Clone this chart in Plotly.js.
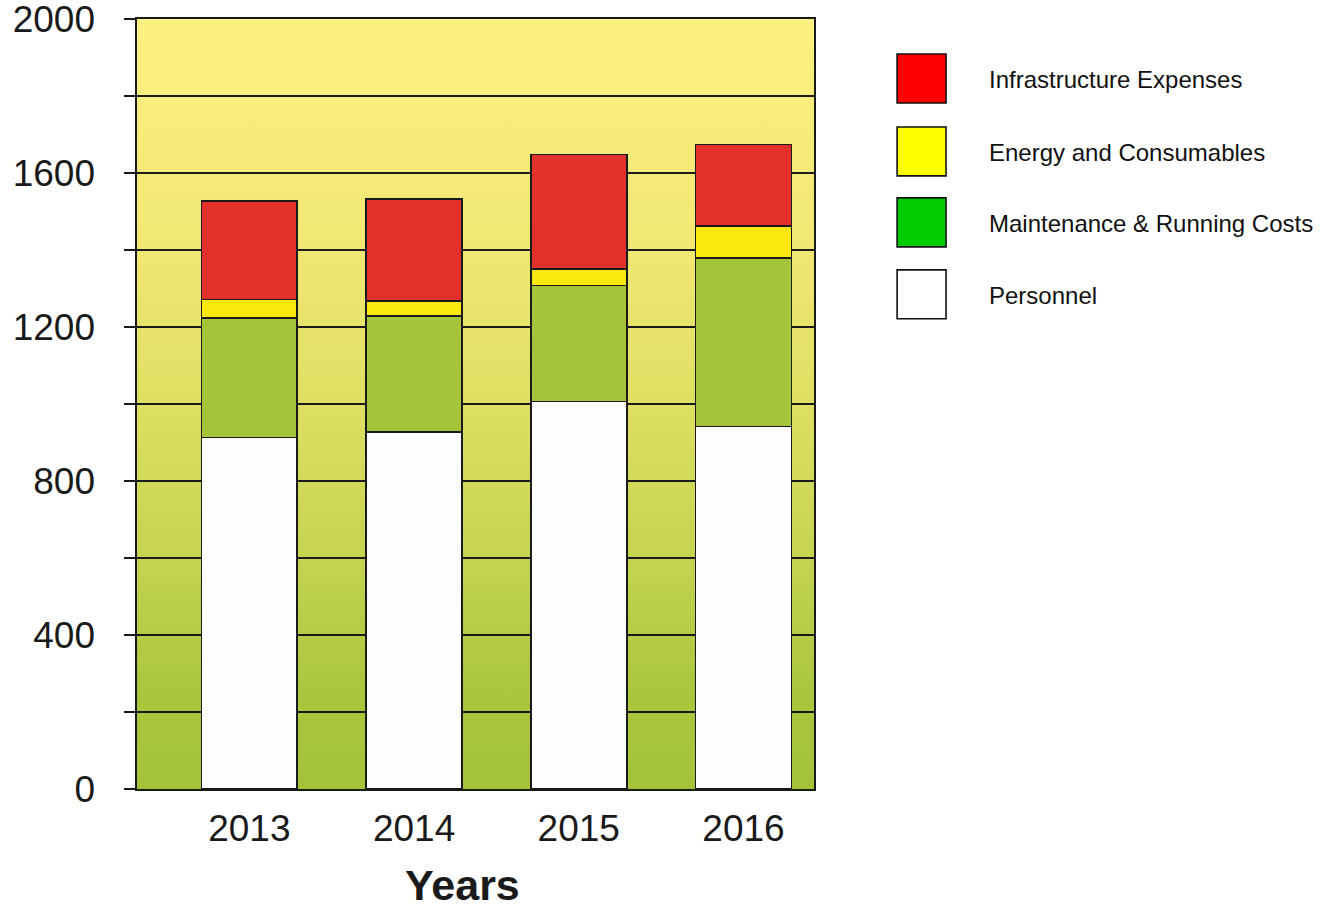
<!DOCTYPE html>
<html>
<head>
<meta charset="utf-8">
<script src="https://cdn.plot.ly/plotly-3.0.1.min.js"></script>
<style>
  html, body { margin: 0; padding: 0; background: #ffffff; }
  #chart { width: 1334px; height: 908px; }
</style>
</head>
<body>
<div id="chart"></div>
<script>
// Annual budget by cost category, stacked from the bottom up
const years = ['2013', '2014', '2015', '2016'];
const personnel      = [913, 927, 1006, 942];
const maintenance    = [310, 302, 302, 438];
const energy         = [48, 39, 43, 82];
const infrastructure = [256, 264, 297, 212];

const seriesNames  = ['Personnel', 'Maintenance & Running Costs', 'Energy and Consumables', 'Infrastructure Expenses'];
const seriesValues = [personnel, maintenance, energy, infrastructure];
const barColors    = ['#fefefe', '#a6c439', '#fbe80e', '#e2302a'];
const legendColors = ['#ffffff', '#00cc00', '#ffff00', '#ff0000'];

const xTitle = 'Years';
const yTicks = [0, 400, 800, 1200, 1600, 2000];

// Plot-area geometry in page pixels
const W = 1334, H = 908;
const plotLeft = 136.5, plotRight = 814.3, plotTop = 19, plotBottom = 789.5;
const pw = plotRight - plotLeft, ph = plotBottom - plotTop;
const px = x => (x - plotLeft) / pw;
const py = y => (plotBottom - y) / ph;

const traces = seriesNames.map((name, i) => ({
  type: 'bar',
  name: name,
  x: years,
  y: seriesValues[i],
  width: 0.582,
  marker: { color: barColors[i], line: { color: '#1a1a1a', width: 1.6 } },
  showlegend: false,
  hoverinfo: 'x+y+name'
}));

// Vertical yellow-to-green wash behind the plot area
const gradSvg =
  '<svg xmlns="http://www.w3.org/2000/svg" width="100" height="100" preserveAspectRatio="none">' +
  '<defs><linearGradient id="g" x1="0" y1="0" x2="0" y2="1">' +
  '<stop offset="0" stop-color="#fdf181"/>' +
  '<stop offset="0.3" stop-color="#f1e773"/>' +
  '<stop offset="0.5" stop-color="#dedf63"/>' +
  '<stop offset="0.7" stop-color="#c5d44e"/>' +
  '<stop offset="0.88" stop-color="#a9c63c"/>' +
  '<stop offset="1" stop-color="#a5c339"/>' +
  '</linearGradient></defs>' +
  '<rect width="100" height="100" fill="url(#g)"/></svg>';
const gradUri = 'data:image/svg+xml;base64,' + btoa(gradSvg);

// Hand-built legend: colour swatches and labels to the right of the plot
const legendOrder = [3, 2, 1, 0];
const swatchTops = [54, 127, 198, 270];
const swatchSize = 49;
const shapes = [];
const annotations = [];
legendOrder.forEach((si, k) => {
  const top = swatchTops[k];
  shapes.push({
    type: 'rect', xref: 'paper', yref: 'paper',
    x0: px(897.5), x1: px(897.5 + swatchSize),
    y0: py(top + swatchSize), y1: py(top),
    fillcolor: legendColors[si],
    line: { color: '#111111', width: 1.6 }
  });
  annotations.push({
    xref: 'paper', yref: 'paper',
    x: px(988), y: py(top + swatchSize / 2 + 1),
    xanchor: 'left', yanchor: 'middle',
    text: seriesNames[si], showarrow: false,
    font: { family: '"Liberation Sans", Arial, sans-serif', size: 24, color: '#111111' }
  });
});

// X-axis title, set slightly left of the plot centre
annotations.push({
  xref: 'paper', yref: 'paper',
  x: px(462), y: py(886),
  xanchor: 'center', yanchor: 'middle',
  text: '<b>' + xTitle + '</b>', showarrow: false,
  font: { family: '"Liberation Sans", Arial, sans-serif', size: 43, color: '#1a1a1a' }
});

const layout = {
  width: W, height: H,
  margin: { l: plotLeft, r: W - plotRight, t: plotTop, b: H - plotBottom, pad: 0 },
  paper_bgcolor: '#ffffff',
  plot_bgcolor: 'rgba(0,0,0,0)',
  barmode: 'stack',
  font: { family: '"Liberation Sans", Arial, sans-serif', color: '#111111' },
  xaxis: {
    type: 'category',
    range: [-0.682, 3.428],
    showline: true, mirror: true, linecolor: '#1a1a1a', linewidth: 1.6,
    ticks: '', showgrid: false, zeroline: false,
    tickfont: { size: 37, color: '#1a1a1a' },
    ticklabelstandoff: 6,
    automargin: false,
    fixedrange: true
  },
  yaxis: {
    range: [0, 2000],
    tickvals: yTicks,
    showline: true, mirror: true, linecolor: '#1a1a1a', linewidth: 1.6,
    ticks: 'outside', ticklen: 11, tickwidth: 1.4, tickcolor: '#1a1a1a',
    showgrid: true, gridcolor: '#1a1a1a', gridwidth: 1.4,
    minor: { dtick: 200, ticks: 'outside', ticklen: 11, tickwidth: 1.4, tickcolor: '#1a1a1a', showgrid: true, gridcolor: '#1a1a1a', gridwidth: 1.4 },
    zeroline: false,
    tickfont: { size: 37, color: '#1a1a1a' },
    ticklabelstandoff: 22,
    ticklabeloverflow: 'allow',
    automargin: false,
    fixedrange: true
  },
  images: [{
    source: gradUri, xref: 'paper', yref: 'paper',
    x: 0, y: 1, sizex: 1, sizey: 1,
    xanchor: 'left', yanchor: 'top',
    sizing: 'stretch', layer: 'below'
  }],
  shapes: shapes,
  annotations: annotations,
  showlegend: false
};

Plotly.newPlot('chart', traces, layout, { displayModeBar: false, staticPlot: true });
</script>
</body>
</html>
